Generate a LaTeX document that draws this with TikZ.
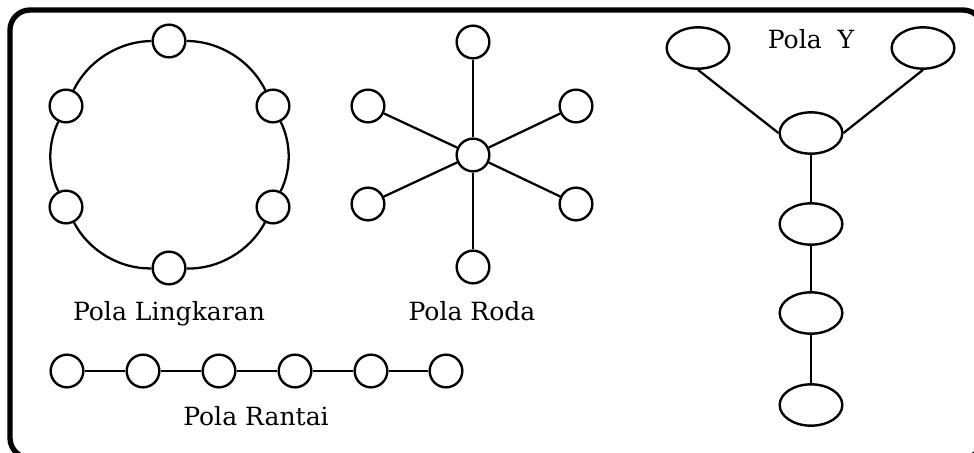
\documentclass[tikz,border=0pt]{standalone}
\usepackage{fontspec}
\setmainfont{DejaVu Serif}
\usetikzlibrary{shapes.geometric}
\tikzset{
    x=0.75pt, y=-0.75pt,
    every node/.style={line width=1.8pt},
    vertex/.style={circle, draw, fill=white, minimum size=24.5pt, inner sep=0pt},
    oval/.style={ellipse, draw, fill=white, minimum width=47pt, minimum height=31pt, inner sep=0pt},
    label text/.style={font=\fontsize{18.8}{21}\selectfont, anchor=base},
    every edge/.style={draw, line width=1.7pt},
    ring/.style={bend left=#1, looseness=0.9},
    frame/.style={line width=4pt, rounded corners=15pt}
}

\begin{document}
\begin{tikzpicture}
	\useasboundingbox (0,0) rectangle (974,453);
	\clip (0,0) rectangle (974,453);
	\draw[frame] (10,10) rectangle (983,458);

	% pola lingkaran
	\node[vertex] (l1) at (169,41) {};
	\node[vertex] (l2) at (273,106) {};
	\node[vertex] (l3) at (273,207) {};
	\node[vertex] (l4) at (169,268) {};
	\node[vertex] (l5) at (66,207) {};
	\node[vertex] (l6) at (66,106) {};
	\draw
	(l1) edge[ring=32] (l2)
	(l2) edge[ring=26] (l3)
	(l3) edge[ring=32] (l4)
	(l4) edge[ring=32] (l5)
	(l5) edge[ring=26] (l6)
	(l6) edge[ring=32] (l1);
	\node[label text] (tl) at (169,320) {Pola Lingkaran};

	% pola roda
	\node[vertex] (r0) at (473,155) {};
	\node[vertex] (r1) at (473,42) {};
	\node[vertex] (r2) at (576,106) {};
	\node[vertex] (r3) at (576,204) {};
	\node[vertex] (r4) at (473,267) {};
	\node[vertex] (r5) at (368,204) {};
	\node[vertex] (r6) at (368,106) {};
	\draw
	(r0) edge (r1)
	(r0) edge (r2)
	(r0) edge (r3)
	(r0) edge (r4)
	(r0) edge (r5)
	(r0) edge (r6);
	\node[label text] (tr) at (472,320) {Pola Roda};

	% pola rantai
	\node[vertex] (c1) at (67,371) {};
	\node[vertex] (c2) at (143,371) {};
	\node[vertex] (c3) at (219,371) {};
	\node[vertex] (c4) at (295,371) {};
	\node[vertex] (c5) at (371,371) {};
	\node[vertex] (c6) at (446,371) {};
	\draw
	(c1) edge (c2)
	(c2) edge (c3)
	(c3) edge (c4)
	(c4) edge (c5)
	(c5) edge (c6);
	\node[label text] (tc) at (256,425) {Pola Rantai};

	% pola Y
	\node[oval] (y1) at (698,48) {};
	\node[oval] (y2) at (923,48) {};
	\node[oval] (y3) at (811,133) {};
	\node[oval] (y4) at (811,224) {};
	\node[oval] (y5) at (811,313) {};
	\node[oval] (y6) at (811,405) {};
	\draw
	(y1.south) edge (y3.west)
	(y2.south) edge (y3.east)
	(y3) edge (y4)
	(y4) edge (y5)
	(y5) edge (y6);
	\node[label text] (ty) at (811,49) {Pola\ \ Y};
\end{tikzpicture}
\end{document}
